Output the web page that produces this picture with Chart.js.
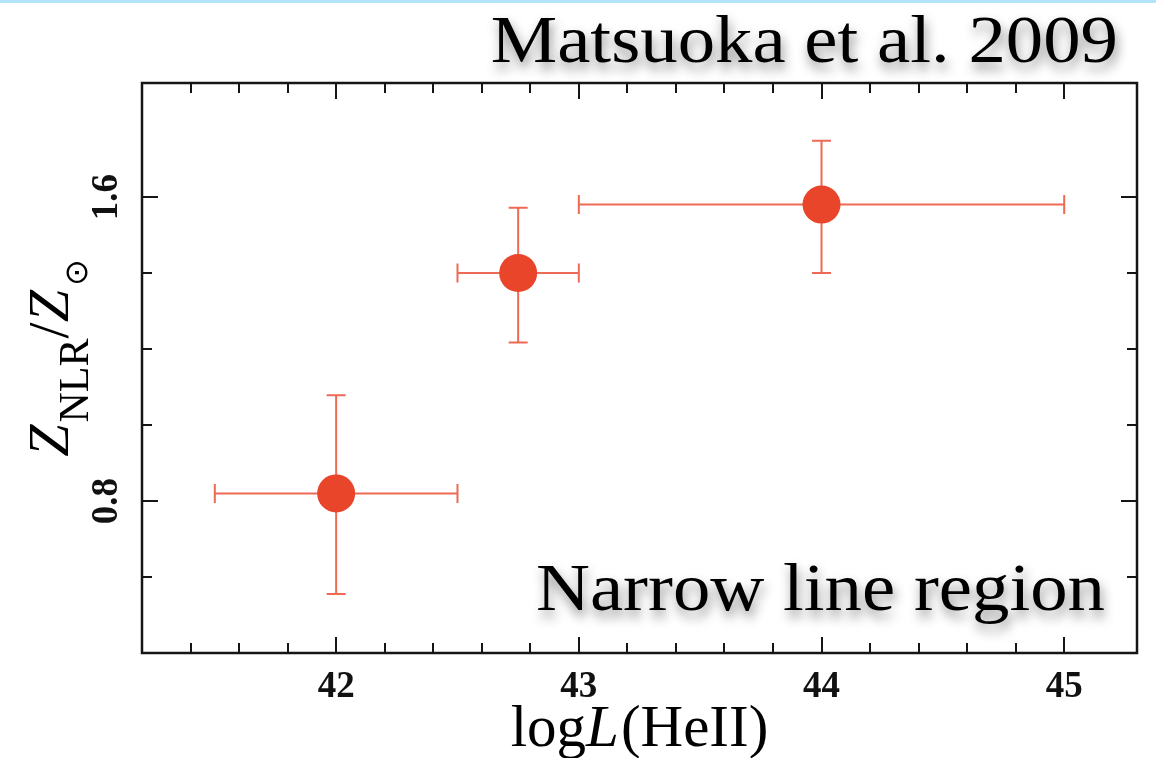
<!DOCTYPE html>
<html>
<head>
<meta charset="utf-8">
<script src="https://cdn.jsdelivr.net/npm/chart.js@4.4.1/dist/chart.umd.min.js"></script>
<style>
  html, body { margin: 0; padding: 0; background: #fff; }
  canvas { display: block; }
</style>
</head>
<body>
<canvas id="metalChart" width="1156" height="758"></canvas>
<script>
// narrow line region metallicity vs HeII luminosity bins
const logL = [42.0, 42.75, 44.0];
const logLLow = [41.5, 42.5, 43.0];
const logLHigh = [42.5, 43.0, 45.0];
const zRatio = [0.82, 1.40, 1.58];
const zLow = [0.555, 1.217, 1.40];
const zHigh = [1.078, 1.572, 1.748];
const xTickLabels = [42, 43, 44, 45];
const yTickLabels = [0.8, 1.6];

const SERIF = '"Liberation Serif", "Times New Roman", serif';

function isMultiple(v, step) {
    const r = v / step;
    return Math.abs(r - Math.round(r)) < 1e-6;
}

const errorBars = {
    id: 'errorBars',
    beforeDatasetsDraw(chart) {
        const { ctx, scales: { x, y } } = chart;
        const cap = 9.5;
        ctx.save();
        ctx.strokeStyle = '#ee6a55';
        ctx.lineWidth = 2;
        ctx.beginPath();
        logL.forEach((v, i) => {
            const px = x.getPixelForValue(v);
            const py = y.getPixelForValue(zRatio[i]);
            const x0 = x.getPixelForValue(logLLow[i]);
            const x1 = x.getPixelForValue(logLHigh[i]);
            const y0 = y.getPixelForValue(zLow[i]);
            const y1 = y.getPixelForValue(zHigh[i]);
            ctx.moveTo(x0, py); ctx.lineTo(x1, py);
            ctx.moveTo(x0, py - cap); ctx.lineTo(x0, py + cap);
            ctx.moveTo(x1, py - cap); ctx.lineTo(x1, py + cap);
            ctx.moveTo(px, y0); ctx.lineTo(px, y1);
            ctx.moveTo(px - cap, y0); ctx.lineTo(px + cap, y0);
            ctx.moveTo(px - cap, y1); ctx.lineTo(px + cap, y1);
        });
        ctx.stroke();
        ctx.restore();
    }
};

// box frame with ticks pointing inwards on all four sides
const frameTicks = {
    id: 'frameTicks',
    beforeDatasetsDraw(chart) {
        const { ctx, chartArea: a, scales: { x, y } } = chart;
        ctx.save();
        ctx.strokeStyle = '#151515';
        ctx.lineWidth = 2;
        ctx.beginPath();
        x.ticks.forEach(t => {
            if (t.value <= x.min + 1e-6 || t.value >= x.max - 1e-6) return;
            const px = Math.round(x.getPixelForValue(t.value));
            const len = isMultiple(t.value, 1) ? 16 : 10;
            ctx.moveTo(px, a.bottom); ctx.lineTo(px, a.bottom - len);
            ctx.moveTo(px, a.top); ctx.lineTo(px, a.top + len);
        });
        y.ticks.forEach(t => {
            if (t.value <= y.min + 1e-6 || t.value >= y.max - 1e-6) return;
            const py = Math.round(y.getPixelForValue(t.value));
            const len = isMultiple(t.value, 0.8) ? 16 : 10;
            ctx.moveTo(a.left, py); ctx.lineTo(a.left + len, py);
            ctx.moveTo(a.right, py); ctx.lineTo(a.right - len, py);
        });
        ctx.stroke();
        ctx.lineWidth = 2.5;
        ctx.strokeRect(a.left, a.top, a.right - a.left, a.bottom - a.top);
        ctx.restore();
    }
};

function drawRun(ctx, parts, cx, baseY) {
    let total = 0;
    parts.forEach(p => { ctx.font = p.f; p.w = ctx.measureText(p.t).width; total += p.w + (p.gap || 0); });
    let pos = cx - total / 2;
    parts.forEach(p => {
        ctx.font = p.f;
        ctx.fillText(p.t, pos, baseY + (p.dy || 0));
        pos += p.w + (p.gap || 0);
    });
}

// right-aligned text, a little wider than the plain font
function drawWide(ctx, text, right, baseline) {
    const sx = 1.1;
    ctx.save();
    ctx.translate(right, baseline);
    ctx.scale(sx, 1);
    ctx.fillText(text, 0, 0);
    ctx.restore();
}

const labels = {
    id: 'labels',
    beforeDraw(chart) {
        const { ctx } = chart;
        ctx.save();
        ctx.fillStyle = '#b3e3f8';
        ctx.fillRect(0, 0, chart.width, 3);
        ctx.restore();
    },
    afterDraw(chart) {
        const { ctx, chartArea: a } = chart;
        ctx.save();
        ctx.fillStyle = '#000';
        ctx.textAlign = 'left';
        ctx.textBaseline = 'alphabetic';

        // x axis title: log L(HeII)
        drawRun(ctx, [
            { t: 'log', f: '59px ' + SERIF },
            { t: 'L', f: 'italic 59px ' + SERIF, gap: 2 },
            { t: '(HeII)', f: '59px ' + SERIF }
        ], (a.left + a.right) / 2, 746);

        // y axis title: Z_NLR / Z_sun, rotated
        ctx.translate(68, 0);
        ctx.rotate(-Math.PI / 2);
        drawRun(ctx, [
            { t: 'Z', f: 'italic 58px ' + SERIF, gap: 2 },
            { t: 'NLR', f: '42px ' + SERIF, dy: 20 },
            { t: '/', f: '58px ' + SERIF },
            { t: 'Z', f: 'italic 58px ' + SERIF, gap: 4 },
            { t: '\u2299', f: '32px "DejaVu Sans"', dy: 19 }
        ], -358, 0);
        ctx.setTransform(1, 0, 0, 1, 0, 0);

        // annotations with soft drop shadow
        ctx.shadowColor = 'rgba(0, 0, 0, 0.45)';
        ctx.shadowBlur = 12;
        ctx.shadowOffsetX = 2;
        ctx.shadowOffsetY = 7;
        ctx.font = '68px ' + SERIF;
        ctx.textAlign = 'right';
        drawWide(ctx, 'Matsuoka et al. 2009', 1118, 62);
        drawWide(ctx, 'Narrow line region', 1105, 610);
        ctx.restore();
    }
};

const ctx = document.getElementById('metalChart').getContext('2d');

new Chart(ctx, {
    type: 'scatter',
    data: {
        datasets: [{
            data: logL.map((v, i) => ({ x: v, y: zRatio[i] })),
            backgroundColor: '#e8452a',
            borderWidth: 0,
            pointRadius: 19,
            pointHoverRadius: 19
        }]
    },
    options: {
        responsive: false,
        animation: false,
        layout: {
            padding: { top: 83, right: 14, left: 0, bottom: 0 }
        },
        plugins: {
            legend: { display: false },
            tooltip: { enabled: false }
        },
        scales: {
            x: {
                type: 'linear',
                min: 41.2,
                max: 45.3,
                grid: { display: false, drawTicks: false },
                border: { display: false },
                ticks: {
                    stepSize: 0.2,
                    autoSkip: false,
                    maxRotation: 0,
                    padding: 12,
                    color: '#111',
                    font: { family: SERIF, size: 37, weight: 'bold' },
                    callback: function (v) {
                        return xTickLabels.some(l => Math.abs(l - v) < 1e-6) ? String(Math.round(v)) : '';
                    }
                },
                afterFit: function (scale) {
                    scale.height = 105;
                    scale.paddingLeft = 0;
                    scale.paddingRight = 0;
                }
            },
            y: {
                type: 'linear',
                min: 0.4,
                max: 1.9,
                grid: { display: false, drawTicks: false },
                border: { display: false },
                ticks: {
                    stepSize: 0.2,
                    autoSkip: false,
                    minRotation: 90,
                    maxRotation: 90,
                    crossAlign: 'center',
                    padding: 11,
                    color: '#111',
                    font: { family: SERIF, size: 37, weight: 'bold' },
                    callback: function (v) {
                        const m = yTickLabels.find(l => Math.abs(l - v) < 1e-6);
                        return m !== undefined ? m.toFixed(1) : '';
                    }
                },
                afterFit: function (scale) {
                    scale.width = 142;
                    scale.paddingTop = 0;
                    scale.paddingBottom = 0;
                }
            }
        }
    },
    plugins: [frameTicks, errorBars, labels]
});
</script>
</body>
</html>
